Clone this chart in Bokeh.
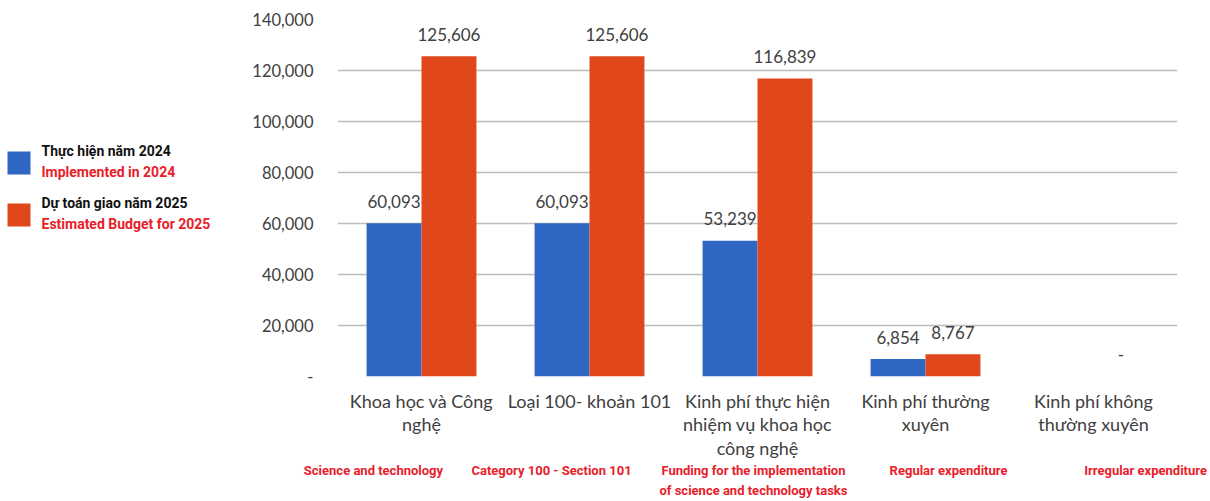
from bokeh.plotting import figure
from bokeh.models import (ColumnDataSource, Range1d, FixedTicker, NumeralTickFormatter,
                          LinearAxis)
from bokeh.layouts import row
from bokeh.transform import dodge
from bokeh.core.properties import value
from bokeh.embed import file_html
from bokeh.resources import INLINE

# ---- data ----
categories_vi = [
    "Khoa học và Công\nnghệ",
    "Loại 100- khoản 101",
    "Kinh phí thực hiện\nnhiệm vụ khoa học\ncông nghệ",
    "Kinh phí thường\nxuyên",
    "Kinh phí không\nthường xuyên",
]
categories_en = [
    "Science and technology",
    "Category 100 - Section 101",
    "Funding for the implementation\nof science and technology tasks",
    "Regular expenditure",
    "Irregular expenditure",
]
implemented_2024 = [60093, 60093, 53239, 6854, 0]
estimated_2025 = [125606, 125606, 116839, 8767, 0]
labels_2024 = ["60,093", "60,093", "53,239", "6,854", ""]
labels_2025 = ["125,606", "125,606", "116,839", "8,767", "-"]
y_ticks = [0, 20000, 40000, 60000, 80000, 100000, 120000, 140000]
legend_vi = ["Thực hiện năm 2024", "Dự toán giao năm 2025"]
legend_en = ["Implemented in 2024", "Estimated Budget for 2025"]

BLUE = "#2e67c4"
ORANGE = "#e0471b"
RED = "#e8202a"
GREY = "#404040"

W, H = 1210, 501
LW = 230                               # width of the legend panel
FL, FR, FT, FB = 337, 1177, 19, 376    # frame edges in page pixels
N = len(implemented_2024)

# ---------------- legend panel ----------------
# its frame is aligned with the main chart's frame, so map page-y FT..FB onto it
lg = figure(width=LW, height=H, output_backend="svg", toolbar_location=None,
            x_range=Range1d(0, LW), y_range=Range1d(FB, FT),
            min_border_left=0, min_border_right=0, min_border_top=FT,
            min_border_bottom=H - FB)
lg.axis.visible = False
lg.grid.visible = False
lg.outline_line_color = None
lg.border_fill_color = "white"
sw_top = [151, 203]
lg.quad(left=[7, 7], right=[30, 30], top=sw_top, bottom=[t + 23 for t in sw_top],
        fill_color=[BLUE, ORANGE], line_color=None)
lg.text(x=[41, 41], y=[t - 1 for t in sw_top], text=legend_vi, text_align="left",
        text_baseline="middle", text_font=value("Roboto"), text_font_style="bold",
        text_font_size="14px", text_color="#111111")
lg.text(x=[41, 41], y=[t + 20 for t in sw_top], text=legend_en, text_align="left",
        text_baseline="middle", text_font=value("Roboto"), text_font_style="bold",
        text_font_size="14px", text_color=RED)

# ---------------- main chart ----------------
p = figure(width=W - LW, height=H, output_backend="svg", toolbar_location=None,
           x_range=Range1d(0, N), y_range=Range1d(0, 140000),
           min_border_left=FL - LW, min_border_right=W - FR, min_border_top=FT,
           min_border_bottom=H - FB)
p.outline_line_color = None
p.background_fill_color = "white"
p.border_fill_color = "white"

xs = [i + 0.5 for i in range(N)]
src = ColumnDataSource(dict(x=xs, a=implemented_2024, b=estimated_2025,
                            la=labels_2024, lb=labels_2025))
bw = 0.327
p.vbar(x=dodge("x", -bw / 2, range=p.x_range), top="a", width=bw, source=src,
       fill_color=BLUE, line_color=None)
p.vbar(x=dodge("x", bw / 2, range=p.x_range), top="b", width=bw, source=src,
       fill_color=ORANGE, line_color=None)
for ycol, tcol, off in (("a", "la", -bw / 2), ("b", "lb", bw / 2)):
    p.text(x=dodge("x", off, range=p.x_range), y=ycol, text=tcol, source=src,
           text_align="center", text_baseline="middle", y_offset=-22,
           text_font_size="17px", text_color=GREY, text_font=value("Lato"))

# y axis
p.yaxis.ticker = FixedTicker(ticks=y_ticks)
p.yaxis.formatter = NumeralTickFormatter(format="0,0")
p.yaxis.major_label_overrides = {0: "-"}
p.yaxis.axis_line_color = None
p.yaxis.major_tick_line_color = None
p.yaxis.minor_tick_line_color = None
p.yaxis.major_tick_out = 0
p.yaxis.major_tick_in = 0
p.yaxis.minor_tick_out = 0
p.yaxis.major_label_text_font = "Lato"
p.yaxis.major_label_text_font_size = "16.5px"
p.yaxis.major_label_text_color = GREY
p.yaxis.major_label_standoff = 24
p.ygrid.ticker = FixedTicker(ticks=y_ticks)
p.ygrid.grid_line_color = "#bdbdbd"
p.ygrid.grid_line_width = 1.5
p.xgrid.visible = False

# x axis: Vietnamese category names
xa = p.xaxis[0]
xa.ticker = FixedTicker(ticks=xs)
xa.major_label_overrides = {x: t for x, t in zip(xs, categories_vi)}
xa.axis_line_color = None
xa.major_tick_line_color = None
xa.minor_tick_line_color = None
xa.major_tick_out = 0
xa.major_tick_in = 0
xa.minor_tick_out = 0
xa.major_label_standoff = 13
xa.major_label_text_font = "Lato"
xa.major_label_text_font_size = "18px"
xa.major_label_text_color = GREY
xa.major_label_text_line_height = 1.07

# second x axis: English names (page x centres of the overlay captions)
en_x = [373, 551, 753, 948, 1145]
en_ticks = [round((x - FL) / (FR - FL) * N, 3) for x in en_x]
xa2 = LinearAxis(ticker=FixedTicker(ticks=en_ticks),
                 major_label_overrides={x: t for x, t in zip(en_ticks, categories_en)})
xa2.axis_line_color = None
xa2.major_tick_line_color = None
xa2.minor_tick_line_color = None
xa2.major_tick_out = 0
xa2.major_tick_in = 0
xa2.minor_tick_out = 0
xa2.major_label_standoff = 1
xa2.major_label_text_font = "Roboto"
xa2.major_label_text_font_style = "bold"
xa2.major_label_text_font_size = "13px"
xa2.major_label_text_color = RED
xa2.major_label_text_line_height = 1.36
p.add_layout(xa2, "below")

layout = row(lg, p, spacing=0)
open("out.html", "w").write(file_html(layout, INLINE))
